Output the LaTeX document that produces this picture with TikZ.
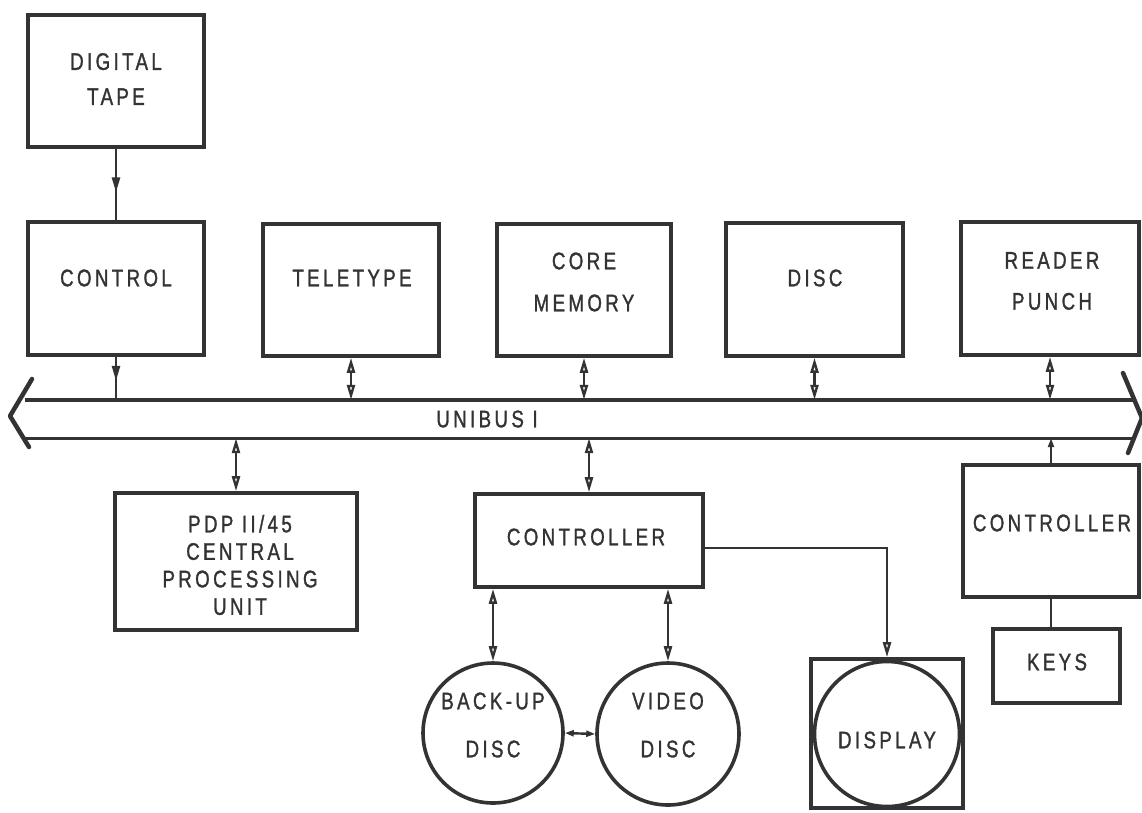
\documentclass[tikz,border=0pt]{standalone}
\usepackage{fontspec}
\newfontfamily\lbl[FakeStretch=0.78,LetterSpace=14,FakeBold=1.2]{Liberation Sans}
\usetikzlibrary{arrows.meta,decorations.markings}
\definecolor{ink}{HTML}{333333}
\begin{document}
\begin{tikzpicture}[x=1pt,y=-1pt,
  box/.style={draw=ink,line width=3.6pt,inner sep=0pt,rectangle},
  disk/.style={draw=ink,line width=3.6pt,inner sep=0pt,circle},
  txt/.style={text=ink,inner sep=0pt,align=center,font=\lbl\fontsize{24}{#1}\selectfont},
  txt/.default=30,
  conn/.style={draw=ink,line width=2.4pt},
  busline/.style={draw=ink,line width=3.4pt},
  chev/.style={draw=ink,line width=4.5pt,line join=round,line cap=round},
  >={Triangle[open,length=15pt,width=8pt]},
  small/.style={>={Triangle[open,length=9pt,width=6pt]}},
  midarrow/.style={postaction={decorate},decoration={markings,
     mark=at position #1 with {\arrow{Triangle[open,length=15pt,width=8pt]}}}}
]
\useasboundingbox (0,0) rectangle (1142,812);
\fill[white] (0,0) rectangle (1142,812);

% boxes
\node[box,minimum width=176pt,minimum height=132pt] (tape) at (116,81) {};
\node[box,minimum width=176pt,minimum height=133pt] (ctrl) at (116,288.5) {};
\node[box,minimum width=176pt,minimum height=132pt] (tele) at (351,290) {};
\node[box,minimum width=174pt,minimum height=132pt] (core) at (584,290) {};
\node[box,minimum width=177pt,minimum height=133pt] (disc) at (814.5,289.5) {};
\node[box,minimum width=178pt,minimum height=133pt] (reader) at (1050,288.5) {};
\node[box,minimum width=242pt,minimum height=137pt] (pdp) at (236,561.5) {};
\node[box,minimum width=228pt,minimum height=93pt] (ctrlb) at (589,540.5) {};
\node[box,minimum width=176pt,minimum height=132pt] (ctrlc) at (1051,531) {};
\node[box,minimum width=127pt,minimum height=74pt] (keys) at (1056.5,666) {};
\node[box,minimum width=152pt,minimum height=149pt] (dispbox) at (887,733.5) {};
\node[disk,minimum size=140pt] (backup) at (493,733) {};
\node[disk,minimum size=142pt] (video) at (668,734) {};
\node[disk,minimum size=145pt] (disp) at (887,734) {};

% bus
\node[inner sep=0pt,minimum width=1110pt,minimum height=38pt] (bus) at (580,419) {};
\draw[busline] (bus.north west) -- (bus.north east);
\draw[busline] (bus.south west) -- (bus.south east);
\draw[chev] (32,379) -- (10,416) -- (29,447);
\draw[chev] (1123,373) -- (1142,418) -- (1128,453);

% texts
\node[txt=35] (tapeT) at (116,79) {DIGITAL\\TAPE};
\node[txt] (ctrlT) at (116,278) {CONTROL};
\node[txt] (teleT) at (352,278) {TELETYPE};
\node[txt=42] (coreT) at (584,282) {CORE\\MEMORY};
\node[txt] (discT) at (815,278) {DISC};
\node[txt=41] (readerT) at (1052,281) {READER\\PUNCH};
\node[txt] (busT) at (487,419) {UNIBUS I};
\node[txt=27.5] (pdpT) at (240,565) {PDP II/45\\CENTRAL\\PROCESSING\\UNIT};
\node[txt] (ctrlbT) at (586,537) {CONTROLLER};
\node[txt] (ctrlcT) at (1052,523) {CONTROLLER};
\node[txt] (keysT) at (1057,662) {KEYS};
\node[txt=48] (backupT) at (493,725) {BACK-UP\\DISC};
\node[txt=48] (videoT) at (668,725) {VIDEO\\DISC};
\node[txt] (dispT) at (887,740) {DISPLAY};

% connectors
\draw[conn,midarrow=0.61] (tape.south) -- (ctrl.north);
\draw[conn,midarrow=0.56] (ctrl.south) -- (ctrl.south |- bus.north);
\draw[conn,<->] (tele.south) -- (tele.south |- bus.north);
\draw[conn,<->] (core.south) -- (core.south |- bus.north);
\draw[conn,<->] (disc.south) -- (disc.south |- bus.north);
\draw[conn,<->] (reader.south) -- (reader.south |- bus.north);
\draw[conn,<->] (bus.south -| pdp.north) -- (pdp.north);
\draw[conn,<->] (bus.south -| ctrlb.north) -- (ctrlb.north);
\draw[conn,small,->] (ctrlc.north) -- (ctrlc.north |- bus.south);
\draw[conn,<->] (backup.north |- ctrlb.south) -- (backup.north);
\draw[conn,<->] (video.north |- ctrlb.south) -- (video.north);
\draw[conn,small,<->] (backup.east) -- (video.west);
\draw[conn,->] (ctrlb.east |- 0,548) -| (dispbox.north);
\draw[conn] (ctrlc.south) -- (ctrlc.south |- keys.north);
\end{tikzpicture}
\end{document}
